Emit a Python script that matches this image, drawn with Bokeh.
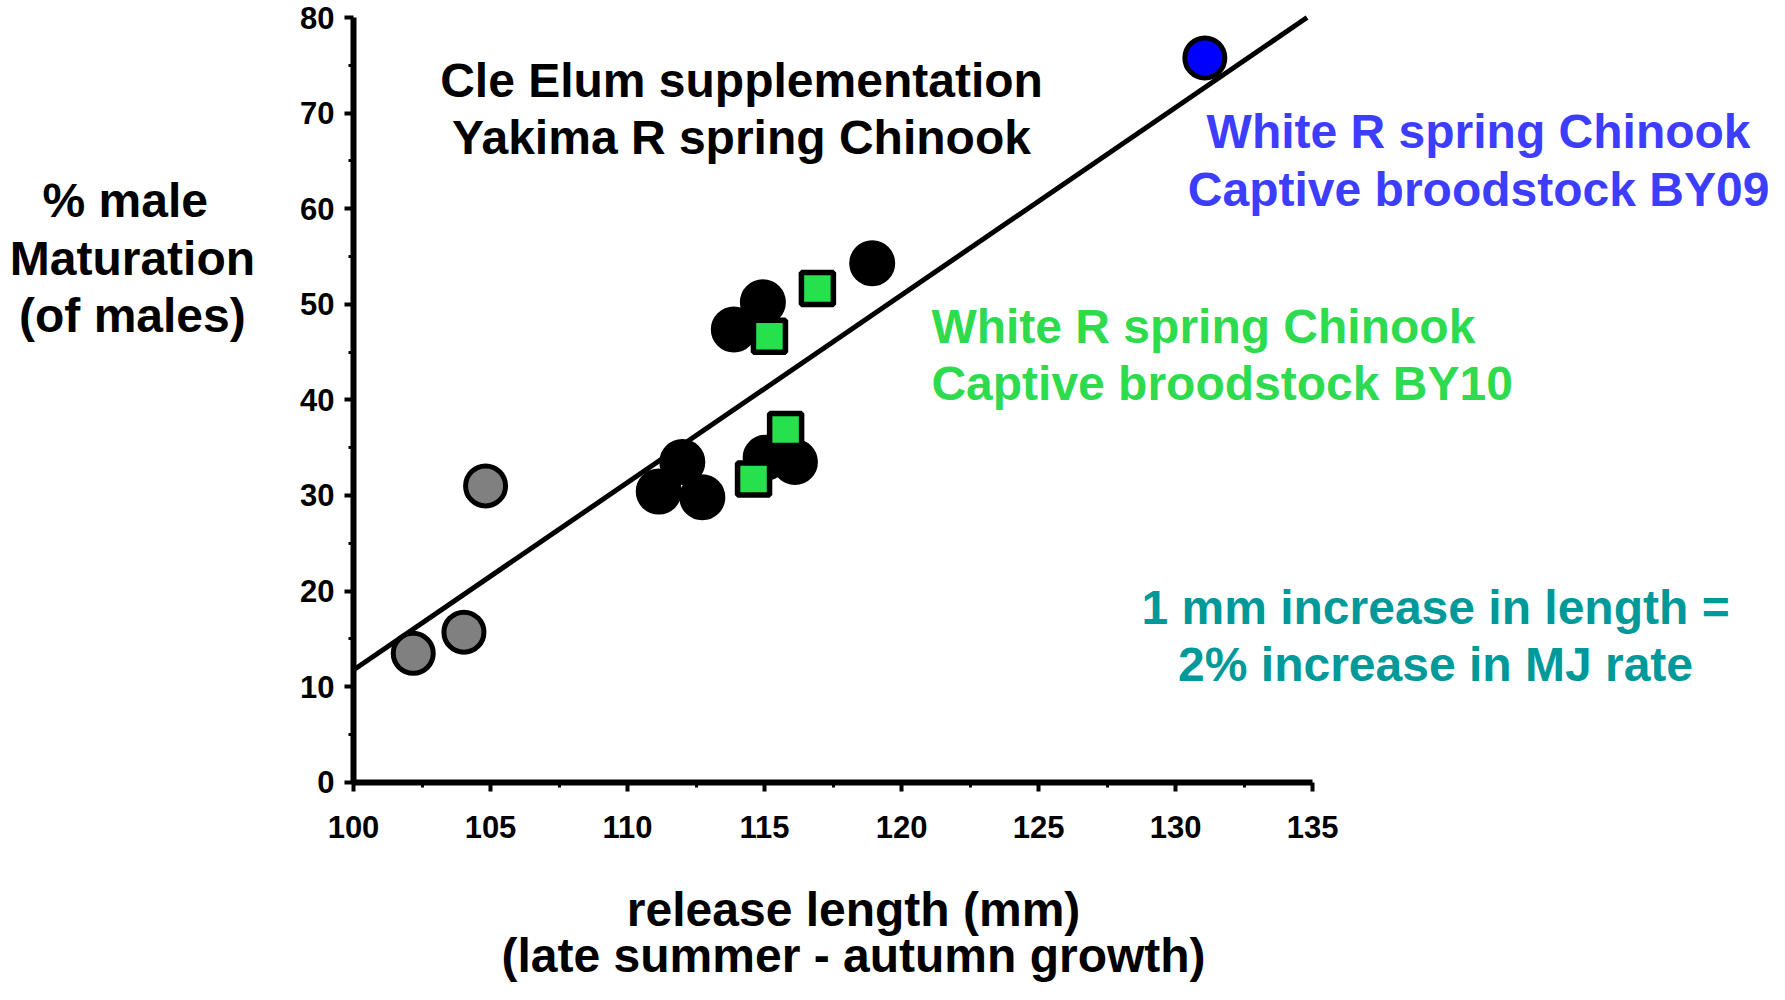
from bokeh.plotting import figure
from bokeh.models import FixedTicker, Label
from bokeh.embed import file_html
from bokeh.resources import INLINE

# ---- data ----
cle_black_x = [114.94, 113.88, 118.93, 112.0, 111.14, 112.73, 115.04, 116.11]
cle_black_y = [50.2, 47.35, 54.29, 33.5, 30.4, 29.8, 33.94, 33.5]
cle_gray_x = [104.82, 104.03, 102.18]
cle_gray_y = [31.0, 15.7, 13.48]
by10_x = [116.93, 115.18, 115.77, 114.6]
by10_y = [51.66, 46.66, 36.89, 31.72]
by09_x = [131.07]
by09_y = [75.77]
fit_x = [100.0, 134.8]
fit_y = [11.74, 80.0]

x_ticks = [100, 105, 110, 115, 120, 125, 130, 135]
x_minor = [102.5, 107.5, 112.5, 117.5, 122.5, 127.5, 132.5]
y_ticks = [0, 10, 20, 30, 40, 50, 60, 70, 80]
y_minor = [5, 15, 25, 35, 45, 55, 65, 75]

FONT = "Liberation Sans"

# frame covers the whole canvas; axes are pinned at x=100 / y=0
p = figure(
    frame_width=1769, frame_height=984,
    min_border=0,
    x_range=(87.117, 151.677), y_range=(-21.163, 81.778),
    output_backend="svg", toolbar_location=None,
)
p.outline_line_color = None
p.xgrid.visible = False
p.ygrid.visible = False
p.background_fill_color = "white"
p.border_fill_color = "white"

for ax in (p.xaxis[0], p.yaxis[0]):
    ax.axis_line_width = 6
    ax.axis_line_color = "black"
    ax.major_tick_line_width = 4
    ax.minor_tick_line_width = 3
    ax.major_tick_in = 0
    ax.major_tick_out = 9
    ax.minor_tick_in = 0
    ax.minor_tick_out = 5
    ax.major_label_text_font = FONT
    ax.major_label_text_font_style = "bold"
    ax.major_label_text_font_size = "31px"
    ax.major_label_text_color = "black"

p.xaxis[0].ticker = FixedTicker(ticks=x_ticks, minor_ticks=x_minor)
p.yaxis[0].ticker = FixedTicker(ticks=y_ticks, minor_ticks=y_minor)
p.xaxis[0].fixed_location = 0
p.yaxis[0].fixed_location = 100
p.xaxis[0].bounds = (100, 135)
p.yaxis[0].bounds = (0, 80)
p.xaxis[0].major_label_standoff = 25
p.yaxis[0].major_label_standoff = 10

# fit line
p.line(fit_x, fit_y, line_color="black", line_width=5)

# markers
p.scatter(cle_gray_x, cle_gray_y, marker="circle", size=40,
          fill_color="#808080", line_color="black", line_width=5)
p.scatter(cle_black_x, cle_black_y, marker="circle", size=41,
          fill_color="black", line_color="black", line_width=5)
p.scatter(by10_x, by10_y, marker="square", size=32,
          fill_color="#26E04C", line_color="black", line_width=5.5)
p.scatter(by09_x, by09_y, marker="circle", size=40,
          fill_color="#0000FF", line_color="black", line_width=5)


def add_text(x, y, txt, color="black", align="center"):
    p.add_layout(Label(
        x=x, y=y, text=txt, text_align=align, text_baseline="alphabetic",
        text_font=FONT, text_font_style="bold", text_font_size="48px",
        text_color=color,
    ))


add_text(114.16, 73.44, "Cle Elum supplementation")
add_text(114.16, 67.49, "Yakima R spring Chinook")

add_text(91.67, 60.81, "% male")
add_text(91.93, 54.74, "Maturation")
add_text(91.93, 48.79, "(of males)")

add_text(141.06, 68.08, "White R spring Chinook", color="#3D3DFF")
add_text(141.06, 62.00, "Captive broodstock BY09", color="#3D3DFF")

add_text(121.09, 47.71, "White R spring Chinook", color="#2EDB4F", align="left")
add_text(121.09, 41.76, "Captive broodstock BY10", color="#2EDB4F", align="left")

add_text(139.49, 18.30, "1 mm increase in length =", color="#00999A")
add_text(139.49, 12.34, "2% increase in MJ rate", color="#00999A")

add_text(118.25, -13.3, "release length (mm)")
add_text(118.25, -18.1, "(late summer - autumn growth)")

open("out.html", "w").write(file_html(p, INLINE))
